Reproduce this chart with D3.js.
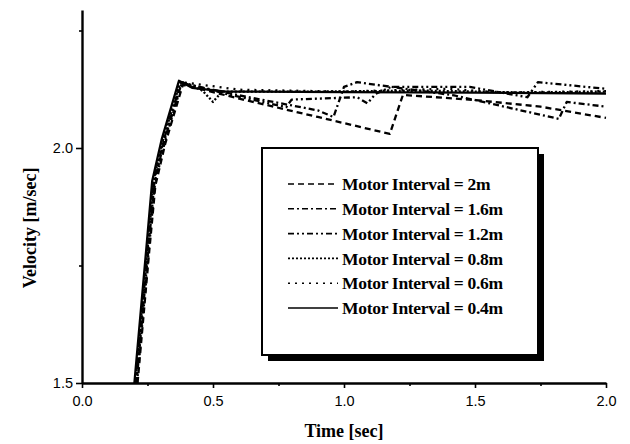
<!DOCTYPE html>
<html>
<head>
<meta charset="utf-8">
<script src="https://cdn.jsdelivr.net/npm/d3@7"></script>
<style>
  body { margin: 0; background: #fff; }
  svg { display: block; }
</style>
</head>
<body>
<svg id="chart" width="630" height="444"></svg>
<script>
// [time (sec), velocity (m/sec)]
var int2m  = [[0.212,1.5],[0.257,1.783],[0.280,1.92],[0.318,2.01],[0.385,2.135],[0.6,2.105],[0.9,2.066],[1.175,2.03],[1.225,2.113],[1.5,2.102],[1.75,2.088],[2.0,2.064]];
var int16m = [[0.208,1.5],[0.253,1.783],[0.276,1.925],[0.314,2.015],[0.380,2.138],[0.6,2.112],[0.9,2.08],[0.96,2.066],[1.0,2.13],[1.05,2.14],[1.42,2.112],[1.82,2.062],[1.85,2.098],[2.0,2.088]];
var int12m = [[0.206,1.5],[0.250,1.783],[0.273,1.925],[0.311,2.015],[0.378,2.14],[0.55,2.115],[0.78,2.087],[0.8,2.103],[1.05,2.108],[1.09,2.095],[1.12,2.115],[1.18,2.13],[1.48,2.13],[1.7,2.108],[1.74,2.14],[2.0,2.126]];
var int08m = [[0.204,1.5],[0.248,1.783],[0.271,1.926],[0.309,2.017],[0.376,2.142],[0.46,2.122],[0.5,2.098],[0.535,2.12],[0.9,2.12],[1.3,2.122],[1.7,2.118],[2.0,2.12]];
var int06m = [[0.210,1.5],[0.255,1.783],[0.278,1.922],[0.316,2.012],[0.382,2.14],[0.6,2.124],[1.0,2.12],[1.4,2.126],[1.6,2.118],[2.0,2.121]];
var int04m = [[0.200,1.5],[0.245,1.783],[0.268,1.93],[0.305,2.02],[0.370,2.143],[0.42,2.128],[0.55,2.12],[1.0,2.119],[1.5,2.118],[2.0,2.116]];

var seriesNames = ["Motor Interval = 2m", "Motor Interval = 1.6m", "Motor Interval = 1.2m",
                   "Motor Interval = 0.8m", "Motor Interval = 0.6m", "Motor Interval = 0.4m"];
var seriesData = [int2m, int16m, int12m, int08m, int06m, int04m];
var dashes = ["6,4", "6,3,2,3", "6,3,2,3,2,3", "2,2", "2,5", null];

var xTicks = [0.0, 0.5, 1.0, 1.5, 2.0];
var xMinor = [0.25, 0.75, 1.25, 1.75];
var yTicks = [1.5, 2.0];
var yMinor = [1.75, 2.25];

(function velocity() {
    var svg = d3.select("#chart"),
        margin = {top: 10, right: 24, bottom: 61, left: 82},
        width = +svg.attr("width") - margin.left - margin.right,
        height = +svg.attr("height") - margin.top - margin.bottom,
        g = svg.append("g").attr("transform", "translate(" + margin.left + "," + margin.top + ")");

    var x = d3.scaleLinear().domain([0, 2.0]).range([0, width]);
    var y = d3.scaleLinear().domain([1.5, 1.5 + height / 470]).range([height, 0]);

    var line = d3.line()
        .x(function(d) { return x(d[0]); })
        .y(function(d) { return y(d[1]); });

    // curves
    seriesData.forEach(function(s, i) {
        g.append("path")
            .datum(s)
            .attr("fill", "none")
            .attr("stroke", "#000")
            .attr("stroke-width", 2.3)
            .attr("stroke-linejoin", "round")
            .attr("stroke-dasharray", dashes[i])
            .attr("d", line);
    });

    // axes
    var fmt = d3.format(".1f");
    var xAxis = g.append("g")
        .attr("transform", "translate(0," + height + ")")
        .call(d3.axisBottom(x).tickValues(xTicks).tickFormat(fmt).tickSize(5).tickSizeOuter(0));
    g.append("g")
        .attr("transform", "translate(0," + height + ")")
        .call(d3.axisBottom(x).tickValues(xMinor).tickFormat("").tickSize(3).tickSizeOuter(0))
        .select(".domain").remove();

    var yAxis = g.append("g")
        .call(d3.axisLeft(y).tickValues(yTicks).tickFormat(fmt).tickSize(6).tickSizeOuter(0));
    g.append("g")
        .call(d3.axisLeft(y).tickValues(yMinor).tickFormat("").tickSize(3).tickSizeOuter(0))
        .select(".domain").remove();

    svg.selectAll(".domain").attr("stroke-width", 2.4);
    svg.selectAll(".tick line").attr("stroke-width", 1.6);
    svg.selectAll(".tick text")
        .attr("font-family", "'Liberation Sans Narrow', 'Liberation Sans', Arial, sans-serif")
        .attr("font-size", 14.5)
        .attr("fill", "#000");
    xAxis.selectAll(".tick text").attr("dy", "1.05em");

    // axis titles
    svg.append("text")
        .attr("x", margin.left + x(1.0))
        .attr("y", 437)
        .attr("text-anchor", "middle")
        .attr("font-family", "'Liberation Serif', 'Times New Roman', serif")
        .attr("font-weight", "bold")
        .attr("font-size", 18)
        .text("Time [sec]");

    svg.append("text")
        .attr("transform", "translate(36," + (margin.top + y(1.83)) + ") rotate(-90)")
        .attr("text-anchor", "middle")
        .attr("font-family", "'Liberation Serif', 'Times New Roman', serif")
        .attr("font-weight", "bold")
        .attr("font-size", 18)
        .text("Velocity [m/sec]");

    // legend
    var lx = 262, ly = 148, lw = 276, lh = 207;
    svg.append("rect")
        .attr("x", lx + 6).attr("y", ly + 6)
        .attr("width", lw).attr("height", lh)
        .attr("fill", "#000");
    svg.append("rect")
        .attr("x", lx).attr("y", ly)
        .attr("width", lw).attr("height", lh)
        .attr("fill", "#fff")
        .attr("stroke", "#000")
        .attr("stroke-width", 2);

    var leg = svg.append("g")
        .selectAll("g")
        .data(seriesNames)
        .enter().append("g")
        .attr("transform", function(d, i) { return "translate(" + (lx + 26) + "," + (ly + 36 + i * 24.8) + ")"; });

    leg.append("line")
        .attr("x1", 0).attr("x2", 50)
        .attr("stroke", "#000")
        .attr("stroke-width", 1.6)
        .attr("stroke-dasharray", function(d, i) { return dashes[i]; });

    leg.append("text")
        .attr("x", 54)
        .attr("dy", "0.35em")
        .attr("font-family", "'Liberation Serif', 'Times New Roman', serif")
        .attr("font-weight", "bold")
        .attr("font-size", 17.5)
        .attr("letter-spacing", -0.3)
        .text(function(d) { return d; });
})();
</script>
</body>
</html>
